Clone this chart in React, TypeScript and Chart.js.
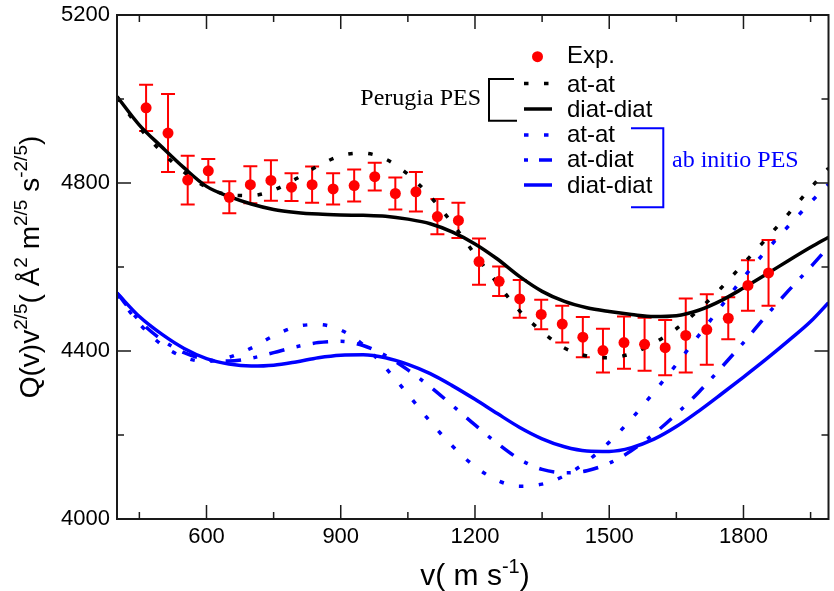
import React, { useEffect, useRef } from "react";
import { Chart, registerables } from "chart.js";

Chart.register(...registerables);

// ---------- data ----------
const expV = [465, 514, 558, 604, 651, 698, 744, 790, 836, 883, 930, 976, 1022, 1068, 1116, 1163, 1209, 1254, 1300, 1348, 1395, 1441, 1486, 1533, 1579, 1625, 1671, 1718, 1766, 1810, 1856];
const expQ = [4979, 4919, 4807, 4829, 4766, 4796, 4806, 4790, 4796, 4786, 4794, 4815, 4775, 4779, 4720, 4711, 4613, 4566, 4524, 4487, 4464, 4433, 4401, 4420, 4416, 4408, 4437, 4451, 4478, 4556, 4586];
const expErr = [55, 93, 58, 28, 38, 44, 48, 33, 43, 37, 38, 33, 38, 47, 42, 42, 55, 35, 45, 35, 44, 48, 52, 62, 63, 66, 88, 84, 50, 60, 78];

const curveV = [400, 450, 500, 550, 600, 650, 700, 750, 800, 850, 900, 950, 1000, 1050, 1100, 1150, 1200, 1250, 1300, 1350, 1400, 1450, 1500, 1550, 1600, 1650, 1700, 1750, 1800, 1850, 1900, 1950, 1990];
const perugiaAtQ = [5003, 4932, 4874, 4826, 4790, 4772, 4770, 4783, 4810, 4841, 4865, 4871, 4857, 4821, 4768, 4703, 4630, 4561, 4495, 4446, 4407, 4388, 4384, 4394, 4419, 4453, 4498, 4550, 4608, 4666, 4726, 4788, 4835];
const perugiaDiatQ = [5006, 4938, 4886, 4836, 4792, 4768, 4750, 4737, 4730, 4726, 4724, 4723, 4721, 4714, 4703, 4683, 4655, 4619, 4577, 4542, 4518, 4503, 4494, 4487, 4482, 4484, 4497, 4520, 4550, 4582, 4615, 4647, 4671];
const abAtQ = [4535, 4465, 4415, 4385, 4375, 4385, 4407, 4436, 4458, 4463, 4450, 4415, 4360, 4297, 4232, 4173, 4125, 4092, 4078, 4083, 4103, 4137, 4183, 4239, 4302, 4368, 4437, 4506, 4575, 4638, 4697, 4754, 4797];
const abAtDiatQ = [4538, 4472, 4427, 4396, 4380, 4376, 4383, 4396, 4410, 4420, 4423, 4413, 4389, 4355, 4315, 4270, 4224, 4180, 4142, 4118, 4110, 4115, 4133, 4163, 4203, 4250, 4302, 4360, 4420, 4483, 4543, 4600, 4648];
const abDiatQ = [4538, 4482, 4440, 4406, 4382, 4369, 4364, 4366, 4374, 4384, 4390, 4391, 4384, 4368, 4346, 4317, 4285, 4251, 4218, 4191, 4172, 4162, 4161, 4170, 4190, 4220, 4257, 4297, 4338, 4380, 4424, 4470, 4515];

const xMin = 400;
const xMax = 1990;
const yMin = 4000;
const yMax = 5200;
const xMajor = [600, 900, 1200, 1500, 1800];
const xMinor = [450, 750, 1050, 1350, 1650, 1950];
const yMajor = [4000, 4400, 4800, 5200];
const yMinor = [4200, 4600, 5000];

type Part = { t: string; sup?: boolean };
const xTitleParts: Part[] = [{ t: "v( m s" }, { t: "-1", sup: true }, { t: ")" }];
const yTitleParts: Part[] = [
  { t: "Q(v)v" }, { t: "2/5", sup: true }, { t: "( Å" }, { t: "2", sup: true },
  { t: " m" }, { t: "2/5", sup: true }, { t: " s" }, { t: "-2/5", sup: true }, { t: ")" },
];
const legendLabels = ["Exp.", "at-at", "diat-diat", "at-at", "at-diat", "diat-diat"];
const perugiaLabel = "Perugia PES";
const abInitioLabel = "ab initio PES";

// ---------- styles ----------
const RED = "#ff0000";
const BLUE = "#0000ff";
const BLACK = "#000000";
const DOT = [4.5, 15.5];
const DASHDOT = [15.5, 12.5, 4, 12.5];
const SANS = '"Liberation Sans", Arial, Helvetica, sans-serif';
const SERIF = '"Liberation Serif", "Times New Roman", serif';

const toXY = (xs: number[], ys: number[]) => xs.map((x, i) => ({ x, y: ys[i] }));

function drawRich(ctx: CanvasRenderingContext2D, parts: Part[], x: number, y: number, size: number, supSize: number, raise: number) {
  let cx = x;
  for (const p of parts) {
    ctx.font = `${p.sup ? supSize : size}px ${SANS}`;
    ctx.fillText(p.t, cx, p.sup ? y - raise : y);
    cx += ctx.measureText(p.t).width;
  }
  return cx - x;
}
function richWidth(ctx: CanvasRenderingContext2D, parts: Part[], size: number, supSize: number) {
  let w = 0;
  for (const p of parts) {
    ctx.font = `${p.sup ? supSize : size}px ${SANS}`;
    w += ctx.measureText(p.t).width;
  }
  return w;
}

const decor = {
  id: "decor",
  beforeDatasetsDraw(chart: any) {
    const { ctx, scales } = chart;
    const x = scales.x, y = scales.y;
    ctx.save();
    ctx.strokeStyle = RED;
    ctx.lineWidth = 2;
    expV.forEach((v, i) => {
      const px = x.getPixelForValue(v);
      const t = y.getPixelForValue(expQ[i] + expErr[i]);
      const b = y.getPixelForValue(expQ[i] - expErr[i]);
      ctx.beginPath();
      ctx.moveTo(px, t); ctx.lineTo(px, b);
      ctx.moveTo(px - 7, t); ctx.lineTo(px + 7, t);
      ctx.moveTo(px - 7, b); ctx.lineTo(px + 7, b);
      ctx.stroke();
    });
    ctx.restore();
  },
  afterDraw(chart: any) {
    const { ctx, chartArea: a, scales } = chart;
    const x = scales.x, y = scales.y;
    ctx.save();
    // frame
    ctx.strokeStyle = "#1a1a1a";
    ctx.lineWidth = 2;
    ctx.strokeRect(a.left, a.top, a.right - a.left, a.bottom - a.top);
    // ticks
    const tick = (len: number, vals: number[], horiz: boolean) => {
      ctx.beginPath();
      vals.forEach((v) => {
        if (horiz) {
          const px = x.getPixelForValue(v);
          ctx.moveTo(px, a.bottom); ctx.lineTo(px, a.bottom - len);
          ctx.moveTo(px, a.top); ctx.lineTo(px, a.top + len);
        } else {
          const py = y.getPixelForValue(v);
          ctx.moveTo(a.left, py); ctx.lineTo(a.left + len, py);
          ctx.moveTo(a.right, py); ctx.lineTo(a.right - len, py);
        }
      });
      ctx.stroke();
    };
    ctx.lineWidth = 1.5;
    tick(14, xMajor, true);
    tick(7, xMinor, true);
    tick(14, yMajor, false);
    tick(7, yMinor, false);

    // tick labels
    ctx.fillStyle = BLACK;
    ctx.font = `22px ${SANS}`;
    ctx.textBaseline = "middle";
    ctx.textAlign = "center";
    xMajor.forEach((v) => ctx.fillText(String(v), x.getPixelForValue(v), a.bottom + 18));
    ctx.textAlign = "right";
    yMajor.forEach((v) => ctx.fillText(String(v), a.left - 7, y.getPixelForValue(v)));

    // axis titles
    ctx.textAlign = "left";
    ctx.textBaseline = "alphabetic";
    const xw = richWidth(ctx, xTitleParts, 30, 20);
    drawRich(ctx, xTitleParts, 475 - xw / 2, 585, 30, 20, 12);
    ctx.save();
    ctx.translate(39, 267);
    ctx.rotate(-Math.PI / 2);
    const yw = richWidth(ctx, yTitleParts, 28, 19);
    drawRich(ctx, yTitleParts, -yw / 2, 0, 28, 19, 12);
    ctx.restore();

    // legend
    const lx0 = 524, lx1 = 552, tx = 567;
    const base = [63, 91.5, 117, 142, 167, 192.5];
    ctx.font = `24px ${SANS}`;
    ctx.fillStyle = BLACK;
    legendLabels.forEach((s, i) => ctx.fillText(s, tx, base[i]));
    ctx.fillStyle = RED;
    ctx.beginPath();
    ctx.arc(537.5, 56.7, 5.5, 0, Math.PI * 2);
    ctx.fill();
    const sample = (color: string, dash: number[], yy: number) => {
      ctx.strokeStyle = color;
      ctx.lineWidth = 3.5;
      ctx.setLineDash(dash);
      ctx.beginPath();
      ctx.moveTo(lx0, yy);
      ctx.lineTo(lx1, yy);
      ctx.stroke();
    };
    sample(BLACK, DOT, base[1] - 8);
    sample(BLACK, [], base[2] - 8);
    sample(BLUE, DOT, base[3] - 7);
    sample(BLUE, [4, 11, 13, 20], base[4] - 7);
    sample(BLUE, [], base[5] - 7.5);
    ctx.setLineDash([]);
    // brackets
    ctx.lineWidth = 2;
    ctx.strokeStyle = BLACK;
    ctx.beginPath();
    ctx.moveTo(514, 79); ctx.lineTo(489, 79); ctx.lineTo(489, 120.7); ctx.lineTo(517, 120.7);
    ctx.stroke();
    ctx.strokeStyle = BLUE;
    ctx.beginPath();
    ctx.moveTo(631, 128.3); ctx.lineTo(663.3, 128.3); ctx.lineTo(663.3, 207.3); ctx.lineTo(631, 207.3);
    ctx.stroke();
    ctx.font = `24px ${SERIF}`;
    ctx.fillStyle = BLACK;
    ctx.textAlign = "right";
    ctx.fillText(perugiaLabel, 481, 105);
    ctx.fillStyle = BLUE;
    ctx.textAlign = "left";
    ctx.fillText(abInitioLabel, 672, 167);
    ctx.restore();
  },
};

export default function App() {
  const ref = useRef<HTMLCanvasElement | null>(null);
  useEffect(() => {
    if (!ref.current) return;
    const line = (data: any, color: string, dash: number[]) => ({
      data,
      borderColor: color,
      backgroundColor: color,
      borderWidth: 3.5,
      borderDash: dash,
      pointRadius: 0,
      fill: false,
      cubicInterpolationMode: "monotone" as const,
    });
    const chart = new Chart(ref.current, {
      type: "line",
      data: {
        datasets: [
          {
            label: "Exp.",
            data: toXY(expV, expQ),
            showLine: false,
            pointRadius: 5.5,
            pointBackgroundColor: RED,
            pointBorderColor: RED,
            pointBorderWidth: 0,
          } as any,
          { label: "Perugia at-at", ...line(toXY(curveV, perugiaAtQ), BLACK, DOT) },
          { label: "Perugia diat-diat", ...line(toXY(curveV, perugiaDiatQ), BLACK, []) },
          { label: "ab initio at-at", ...line(toXY(curveV, abAtQ), BLUE, DOT) },
          { label: "ab initio at-diat", ...line(toXY(curveV, abAtDiatQ), BLUE, DASHDOT) },
          { label: "ab initio diat-diat", ...line(toXY(curveV, abDiatQ), BLUE, []) },
        ],
      },
      options: {
        animation: false,
        responsive: false,
        maintainAspectRatio: false,
        layout: { padding: { left: 117, top: 15, right: 0, bottom: 72 } },
        scales: {
          x: { type: "linear", min: xMin, max: xMax, display: false },
          y: { type: "linear", min: yMin, max: yMax, display: false },
        },
        plugins: { legend: { display: false }, tooltip: { enabled: false } },
      },
      plugins: [decor],
    });
    return () => chart.destroy();
  }, []);
  return (
    <div style={{ position: "fixed", left: 0, top: 0, width: 834, height: 591, background: "#fff" }}>
      <canvas ref={ref} width={834} height={591} style={{ display: "block", width: 834, height: 591 }} />
    </div>
  );
}
